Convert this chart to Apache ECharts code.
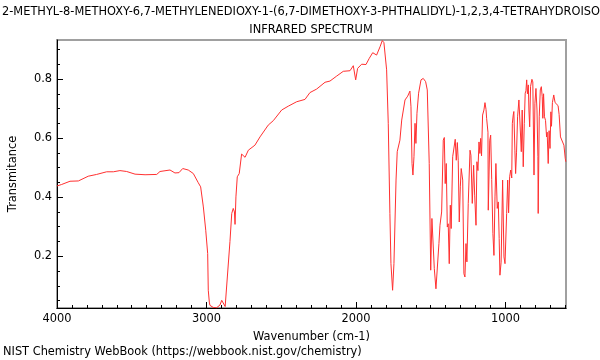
<!DOCTYPE html>
<html>
<head>
<meta charset="utf-8">
<script src="https://cdn.jsdelivr.net/npm/echarts@6/dist/echarts.min.js"></script>
<style>html,body{margin:0;padding:0;background:#fff}#c{width:600px;height:360px}</style>
</head>
<body>
<div id="c"></div>
<script>
const titleLines = ["2-METHYL-8-METHOXY-6,7-METHYLENEDIOXY-1-(6,7-DIMETHOXY-3-PHTHALIDYL)-1,2,3,4-TETRAHYDROISOQUINOLINE", "INFRARED SPECTRUM"];
const xAxisTitle = "Wavenumber (cm-1)";
const yAxisTitle = "Transmitance";
const footer = "NIST Chemistry WebBook (https://webbook.nist.gov/chemistry)";
const xTickLabels = [1000, 2000, 3000, 4000];
const yTickLabels = [0.2, 0.4, 0.6, 0.8];
const wavenumbers = [4000,3969,3913,3857,3791,3735,3668,3623,3579,3534,3478,3411,3333,3311,3244,3211,3184,3159,3122,3088,3055,3039,3021,3005,2992,2988,2981,2977,2955,2932,2910,2898,2890,2875,2865,2843,2831,2821,2813,2809,2803,2794,2781,2765,2752,2742,2720,2676,2642,2587,2553,2497,2453,2397,2341,2308,2263,2207,2174,2129,2085,2040,2018,2002,1989,1962,1933,1911,1906,1888,1862,1839,1824,1813,1795,1784,1773,1766,1755,1746,1732,1724,1706,1694,1683,1672,1654,1639,1632,1625,1619,1612,1605,1599,1592,1581,1565,1550,1534,1523,1510,1500,1492,1483,1476,1465,1456,1445,1438,1427,1416,1409,1403,1396,1389,1383,1376,1369,1363,1353,1342,1336,1329,1322,1316,1309,1302,1296,1286,1278,1271,1264,1258,1249,1237,1231,1222,1213,1206,1197,1191,1184,1177,1171,1166,1160,1153,1144,1137,1130,1126,1117,1115,1105,1099,1092,1084,1077,1070,1064,1055,1048,1042,1037,1029,1019,1010,1003,992,985,979,972,965,958,954,948,944,937,932,926,919,910,901,894,888,881,874,868,863,858,853,847,843,838,832,823,817,809,803,796,789,783,781,774,767,760,754,750,745,739,732,725,721,714,708,702,696,692,686,677,668,659,648,641,632,626,619,609,600,596];
const transmittance = [0.438,0.443,0.454,0.455,0.471,0.477,0.486,0.486,0.490,0.487,0.478,0.476,0.477,0.487,0.492,0.482,0.483,0.497,0.492,0.480,0.449,0.435,0.367,0.288,0.209,0.085,0.045,0.034,0.027,0.026,0.035,0.051,0.05,0.03,0.031,0.25,0.345,0.362,0.35,0.308,0.401,0.469,0.48,0.546,0.545,0.535,0.559,0.576,0.604,0.644,0.659,0.695,0.708,0.723,0.731,0.754,0.766,0.789,0.793,0.810,0.826,0.828,0.845,0.797,0.836,0.850,0.849,0.870,0.876,0.889,0.881,0.909,0.930,0.923,0.831,0.650,0.345,0.175,0.085,0.175,0.458,0.554,0.593,0.661,0.695,0.729,0.742,0.759,0.706,0.514,0.475,0.537,0.650,0.582,0.684,0.752,0.797,0.802,0.791,0.763,0.514,0.153,0.328,0.322,0.158,0.090,0.085,0.243,0.305,0.350,0.593,0.602,0.446,0.514,0.299,0.31,0.175,0.373,0.294,0.537,0.542,0.596,0.525,0.585,0.525,0.316,0.435,0.497,0.458,0.141,0.130,0.243,0.181,0.379,0.559,0.542,0.379,0.508,0.407,0.305,0.520,0.49,0.587,0.548,0.599,0.54,0.678,0.695,0.720,0.697,0.667,0.62,0.356,0.593,0.610,0.46,0.277,0.203,0.401,0.514,0.362,0.384,0.260,0.136,0.18,0.458,0.198,0.175,0.345,0.458,0.347,0.469,0.492,0.465,0.650,0.678,0.69,0.559,0.480,0.55,0.672,0.729,0.735,0.554,0.695,0.503,0.65,0.752,0.76,0.797,0.75,0.78,0.695,0.638,0.775,0.799,0.79,0.475,0.718,0.768,0.695,0.537,0.345,0.672,0.763,0.774,0.74,0.667,0.75,0.672,0.66,0.604,0.62,0.514,0.625,0.565,0.689,0.64,0.72,0.746,0.72,0.72,0.71,0.68,0.604,0.60,0.61,0.576,0.531,0.52];

const xMin = 595, xMax = 4000, yMin = 0.025, yMax = 0.932;
const xMinor = []; for (let v = 600; v <= 4000; v += 100) xMinor.push(v);
const yMinor = []; for (let i = 1; i <= 18; i++) yMinor.push(+(i * 0.05).toFixed(2));

const font = 'DejaVu Sans';
const fs = 11.4;
const chart = echarts.init(document.getElementById('c'), null, {renderer: 'canvas'});
chart.setOption({
  animation: false,
  backgroundColor: '#fff',
  grid: {left: 57, right: 34, top: 40, bottom: 52, show: true, borderColor: '#a0a0a0', borderWidth: 2, backgroundColor: 'transparent'},
  graphic: [
    {type: 'text', x: 2, y: 12, style: {text: titleLines[0], font: fs + 'px "DejaVu Sans"', fill: '#000', align: 'left', verticalAlign: 'middle'}},
    {type: 'text', x: 311, y: 30, style: {text: titleLines[1], font: fs + 'px "DejaVu Sans"', fill: '#000', align: 'center', verticalAlign: 'middle'}},
    {type: 'text', x: 3, y: 352, style: {text: footer, font: fs + 'px "DejaVu Sans"', fill: '#000', align: 'left', verticalAlign: 'middle'}}
  ],
  xAxis: [
    {type: 'value', inverse: true, min: xMin, max: xMax, position: 'bottom',
     name: xAxisTitle, nameLocation: 'middle', nameGap: 24,
     nameTextStyle: {fontFamily: font, fontSize: fs, color: '#000'},
     axisLine: {show: true, lineStyle: {color: '#000', width: 1}},
     axisTick: {show: true, inside: true, length: 6, customValues: xTickLabels, lineStyle: {color: '#000'}},
     axisLabel: {show: true, customValues: xTickLabels, fontFamily: font, fontSize: fs, color: '#000', margin: 6,
       formatter: v => String(v)},
     splitLine: {show: false}},
    {type: 'value', inverse: true, min: xMin, max: xMax, position: 'bottom',
     axisLine: {show: false},
     axisTick: {show: true, inside: true, length: 3, customValues: xMinor, lineStyle: {color: '#000'}},
     axisLabel: {show: false}, splitLine: {show: false}}
  ],
  yAxis: [
    {type: 'value', min: yMin, max: yMax, position: 'left',
     name: yAxisTitle, nameLocation: 'middle', nameGap: 38, nameRotate: 90,
     nameTextStyle: {fontFamily: font, fontSize: fs, color: '#000'},
     axisLine: {show: true, lineStyle: {color: '#000', width: 1}},
     axisTick: {show: true, inside: true, length: 6, customValues: yTickLabels, lineStyle: {color: '#000'}},
     axisLabel: {show: true, customValues: yTickLabels, fontFamily: font, fontSize: fs, color: '#000', margin: 5,
       formatter: v => v.toFixed(1)},
     splitLine: {show: false}},
    {type: 'value', min: yMin, max: yMax, position: 'left',
     axisLine: {show: false},
     axisTick: {show: true, inside: true, length: 3, customValues: yMinor, lineStyle: {color: '#000'}},
     axisLabel: {show: false}, splitLine: {show: false}}
  ],
  series: [{
    type: 'line', xAxisIndex: 0, yAxisIndex: 0,
    data: wavenumbers.map((w, i) => [w, transmittance[i]]),
    showSymbol: false, symbol: 'none', smooth: false,
    lineStyle: {color: '#ff3030', width: 1},
    clip: true
  }]
});
</script>
</body>
</html>
